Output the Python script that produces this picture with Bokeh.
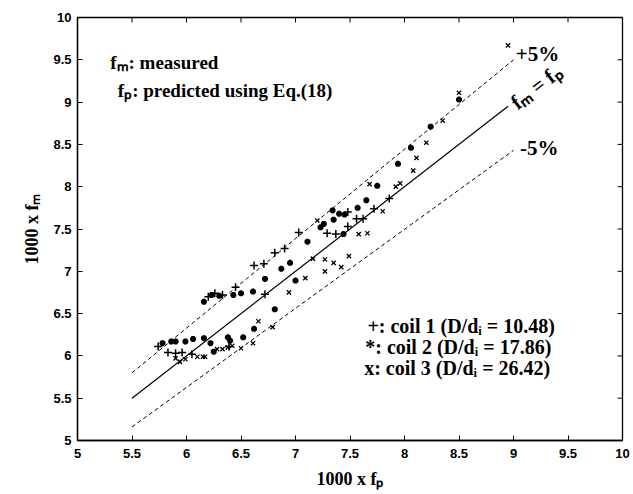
from bokeh.plotting import figure
from bokeh.models import FixedTicker, Label, Range1d
from bokeh.embed import file_html
from bokeh.resources import INLINE

# ---- data ----
coil1_x = [5.74, 5.83, 5.90, 5.96, 6.05, 6.39, 6.20, 6.26, 6.33, 6.45, 6.72, 6.62, 6.71,
           6.81, 6.90, 7.03, 7.29, 7.37, 7.48, 7.48, 7.56, 7.62, 7.72, 7.86]
coil1_y = [6.11, 6.04, 6.03, 6.04, 6.02, 6.11, 6.70, 6.74, 6.72, 6.81, 6.73, 7.07, 7.09,
           7.22, 7.27, 7.46, 7.45, 7.44, 7.53, 7.70, 7.62, 7.62, 7.74, 7.86]

coil2_x = [5.78, 5.86, 5.90, 5.99, 6.06, 6.16, 6.22, 6.25, 6.38, 6.40, 6.52, 6.62, 6.81,
           6.16, 6.23, 6.30, 6.43, 6.50, 6.61, 6.72, 6.87, 6.95, 7.00, 7.11, 7.23, 7.26,
           7.34, 7.35, 7.40, 7.45, 7.44, 7.57, 7.65, 7.75, 7.94, 8.06, 8.24, 8.50]
coil2_y = [6.15, 6.17, 6.17, 6.17, 6.20, 6.21, 6.15, 6.05, 6.22, 6.18, 6.22, 6.32, 6.55,
           6.64, 6.72, 6.71, 6.72, 6.74, 6.76, 6.91, 7.03, 7.10, 6.89, 7.35, 7.52, 7.56,
           7.72, 7.61, 7.68, 7.67, 7.44, 7.75, 7.84, 8.01, 8.27, 8.46, 8.71, 9.03]

coil3_x = [5.90, 5.94, 5.99, 6.10, 6.15, 6.17, 6.28, 6.33, 6.38, 6.42, 6.50, 6.61, 6.66,
           6.79, 6.94, 7.09, 7.16, 7.27, 7.27, 7.35, 7.42, 7.49, 7.20, 7.58, 7.66, 7.80,
           7.68, 7.92, 7.96, 8.08, 8.11, 8.20, 8.35, 8.50, 8.95]
coil3_y = [5.97, 5.93, 5.96, 5.99, 5.99, 5.99, 6.08, 6.08, 6.10, 6.12, 6.09, 6.15, 6.41,
           6.34, 6.75, 6.92, 7.15, 7.00, 7.14, 7.10, 7.05, 7.18, 7.60, 7.44, 7.45, 7.71,
           8.03, 8.00, 8.04, 8.19, 8.34, 8.52, 8.78, 9.11, 9.67]

line_x = [5.5, 8.95]
line_y = [5.5, 8.95]
upper_x = [5.5, 9.0]
upper_y = [5.80, 9.50]
lower_x = [5.5, 9.0]
lower_y = [5.16, 8.43]

ticks = [5, 5.5, 6, 6.5, 7, 7.5, 8, 8.5, 9, 9.5, 10]
tick_labels = ["5", "5.5", "6", "6.5", "7", "7.5", "8", "8.5", "9", "9.5", "10"]

SERIF = "Liberation Serif"
XMIN, XMAX, YMIN, YMAX = 5, 10, 5, 10

p = figure(width=633, height=494, output_backend="svg", toolbar_location=None,
           x_range=Range1d(XMIN, XMAX), y_range=Range1d(YMIN, YMAX),
           min_border_left=77, min_border_right=11, min_border_top=17, min_border_bottom=54,
           x_axis_label="1000 x fₚ", y_axis_label="1000 x fₘ")
p.grid.visible = False
p.outline_line_color = "black"
p.outline_line_width = 1.3
p.background_fill_color = "white"
p.border_fill_color = "white"

overrides = {float(t): s for t, s in zip(ticks, tick_labels)}
for ax in p.xaxis + p.yaxis:
    ax.ticker = FixedTicker(ticks=ticks, minor_ticks=[])
    ax.major_label_overrides = overrides
    ax.major_tick_in = 5
    ax.major_tick_out = 0
    ax.minor_tick_line_color = None
    ax.axis_line_width = 1.3
    ax.axis_line_color = "black"
    ax.major_tick_line_color = "black"
    ax.major_label_text_color = "black"
    ax.major_label_text_font = "Liberation Sans"
    ax.major_label_text_font_style = "bold"
    ax.major_label_text_font_size = "13px"
    ax.axis_label_text_color = "black"
    ax.axis_label_text_font = SERIF
    ax.axis_label_text_font_style = "bold"
    ax.axis_label_text_font_size = "18px"
p.yaxis.major_label_standoff = 6
p.xaxis.major_label_standoff = 8
p.xaxis.axis_label_standoff = 8
p.yaxis.axis_label_standoff = 8

# inward ticks on top and right edges of the frame, from the tick list
n = len(ticks)
tick_len_y = 5 * (YMAX - YMIN) / 423
tick_len_x = 5 * (XMAX - XMIN) / 545
p.segment(x0=ticks, y0=[YMAX] * n, x1=ticks, y1=[YMAX - tick_len_y] * n,
          line_color="black", line_width=1)
p.segment(x0=[XMAX] * n, y0=ticks, x1=[XMAX - tick_len_x] * n, y1=ticks,
          line_color="black", line_width=1)

p.line(line_x, line_y, line_color="black", line_width=1.2)
p.line(upper_x, upper_y, line_color="black", line_width=1, line_dash="4 3")
p.line(lower_x, lower_y, line_color="black", line_width=1, line_dash="4 3")

p.scatter(coil1_x, coil1_y, marker="cross", size=8, line_color="black", line_width=1.5)
p.scatter(coil2_x, coil2_y, marker="asterisk", size=6, line_color="black", line_width=2.2)
p.scatter(coil3_x, coil3_y, marker="x", size=6, line_color="black", line_width=1.3)

def lab(x, y, t, size="18px", angle=0, style="bold", baseline="middle"):
    p.add_layout(Label(x=x, y=y, text=t, text_font=SERIF, text_font_size=size,
                       text_font_style=style, text_baseline=baseline, angle=angle,
                       angle_units="deg", text_color="black"))

lab(5.30, 9.47, "fₘ: measured", size="19px")
lab(5.37, 9.14, "fₚ: predicted using Eq.(18)", size="19px")
lab(9.02, 9.57, "+5%", size="21px")
lab(9.06, 8.46, "-5%", size="21px")
lab(9.00, 8.97, "fₘ = fₚ", size="21px", angle=37.8, baseline="middle")
lab(7.66, 6.35, "+: coil 1 (D/dᵢ =  10.48)", size="20px")
lab(7.64, 6.11, "*: coil 2 (D/dᵢ = 17.86)", size="20px")
lab(7.63, 5.86, "x: coil 3 (D/dᵢ = 26.42)", size="20px")

open("out.html", "w").write(file_html(p, INLINE))
